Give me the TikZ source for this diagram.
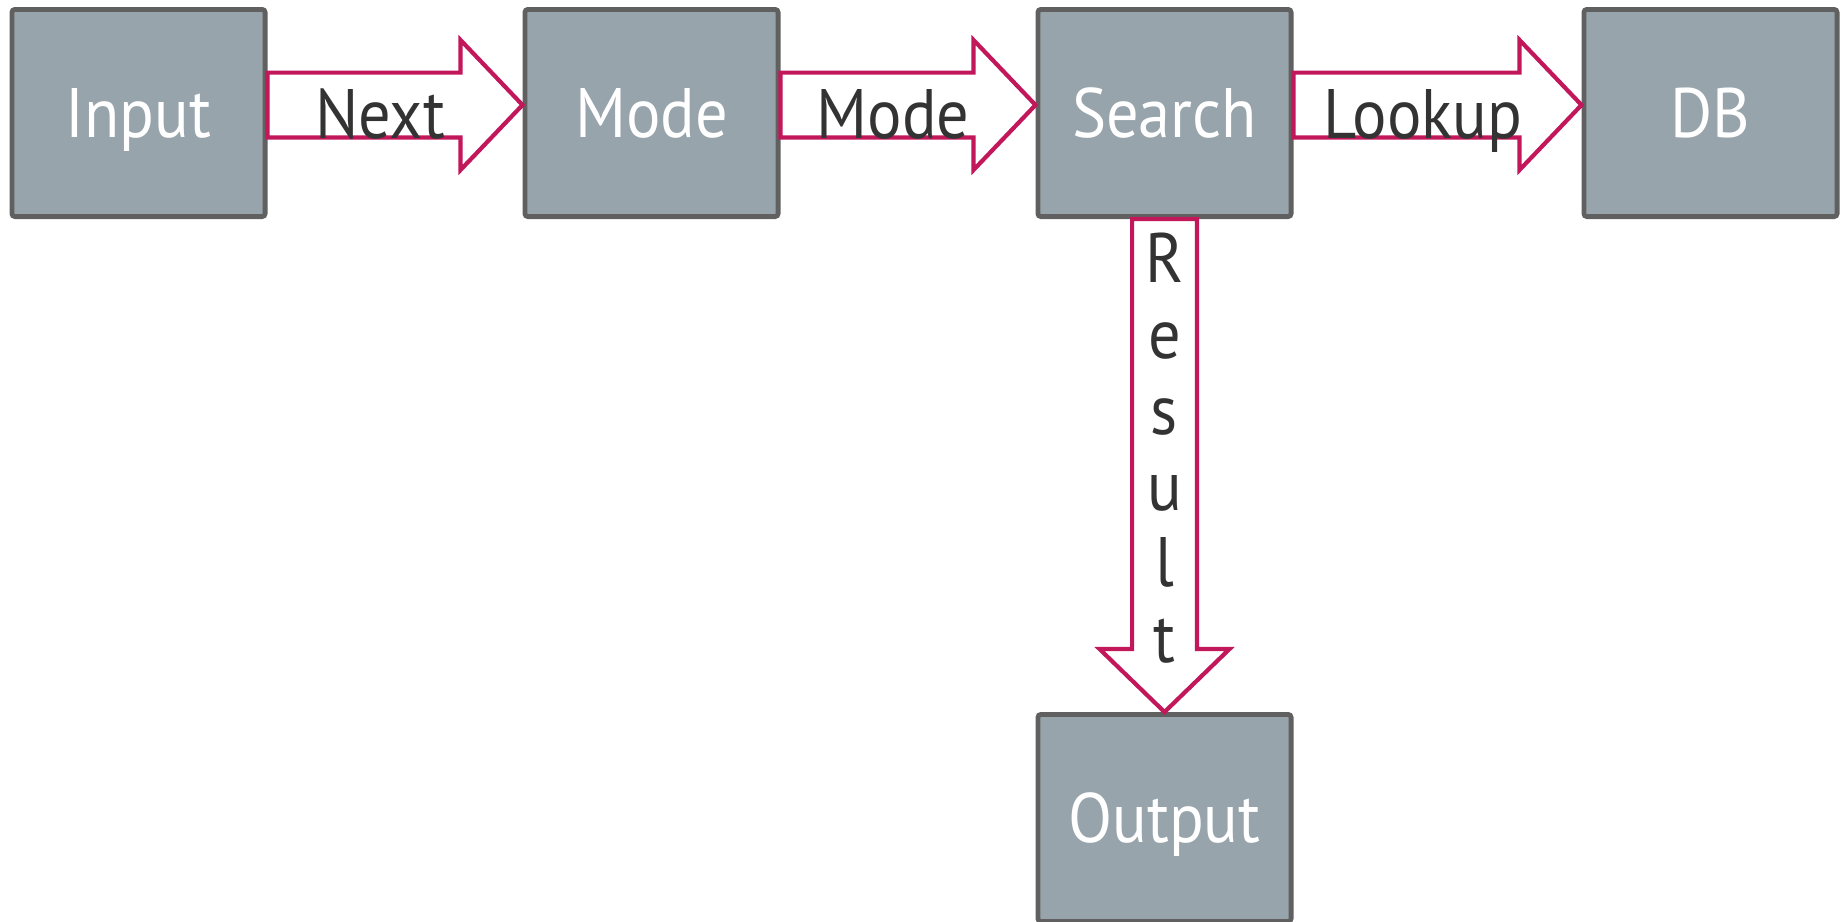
\documentclass[tikz,border=0pt]{standalone}
\usepackage{fontspec}
\setmainfont[FakeStretch=0.92]{PT Sans}
\usetikzlibrary{positioning}
\usetikzlibrary{calc}

\definecolor{boxfill}{HTML}{98A4AB}
\definecolor{boxline}{HTML}{606060}
\definecolor{flowline}{HTML}{C2185B}
\definecolor{labeltext}{HTML}{333333}

% fat arrow between two boxes of one row, with its label
\newcommand{\hflow}[3]{%
  \draw[flow] ($(#1.east)+(0,20.2pt)$) -- ($(#2.west)+(-31pt,20.2pt)$)
    -- ($(#2.west)+(-31pt,36.5pt)$) -- ($(#2.west)+(0,4pt)$)
    -- ($(#2.west)+(-31pt,-28.5pt)$) -- ($(#2.west)+(-31pt,-12.2pt)$)
    -- ($(#1.east)+(0,-12.2pt)$) -- cycle;
  \node[flowlabel] at ($(#1.east)!0.5!(#2.west)+(-7.5pt,-12.75pt)$) {#3};
}

\begin{document}
\begin{tikzpicture}[
      font=\fontsize{35pt}{38pt}\selectfont,
      stage/.style={
          rectangle,
          draw=boxline,
          line width=2.4pt,
          rounded corners=1.5pt,
          fill=boxfill,
          text=white,
          minimum width=126.6pt,
          minimum height=103.6pt,
          text height=24.5pt,
          text depth=0pt,
          inner sep=0pt
        },
      flow/.style={
          draw=flowline,
          line width=2.1pt,
          fill=white,
          line join=miter
        },
      flowlabel/.style={
          anchor=base,
          text=labeltext,
          inner sep=0pt
        }
    ]
    \useasboundingbox (0,0) rectangle (920.5pt,-460.5pt);

    % Nodes
    \node[stage] (input) at (69.25pt,-56.5pt) {Input};
    \node[stage, right=127.5pt of input] (mode) {Mode};
    \node[stage, right=127.5pt of mode] (search) {Search};
    \node[stage, right=144pt of search] (db) {DB};
    \node[stage, below=246.5pt of search] (output) {Output};

    % Arrows
    \hflow{input}{mode}{Next}
    \hflow{mode}{search}{Mode}
    \hflow{search}{db}{Lookup}
    \draw[flow] ($(search.south)+(-16.2pt,0)$) -- ($(output.north)+(-16.2pt,31.5pt)$)
      -- ($(output.north)+(-32.5pt,31.5pt)$) -- (output.north)
      -- ($(output.north)+(32.5pt,31.5pt)$) -- ($(output.north)+(16.2pt,31.5pt)$)
      -- ($(search.south)+(16.2pt,0)$) -- cycle;
    \node[flowlabel, anchor=center, align=center] (result) at ($(search.south)+(0,-114.5pt)$)
      {R\\e\\s\\u\\l\\t};
  \end{tikzpicture}
\end{document}
